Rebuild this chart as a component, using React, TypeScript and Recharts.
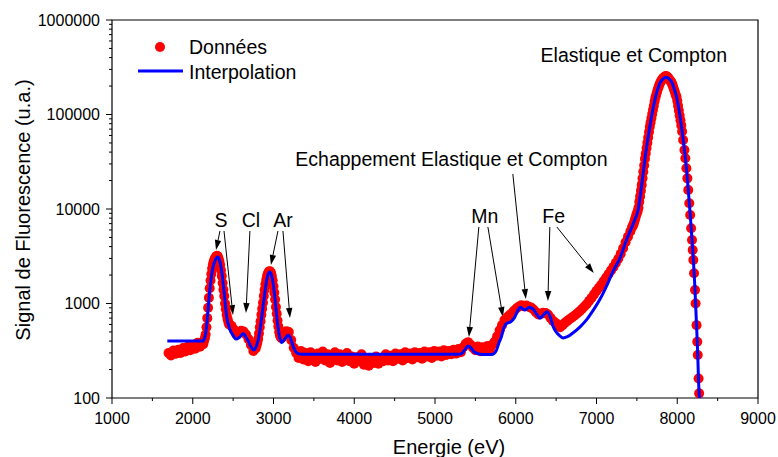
import React from 'react';
import { ComposedChart, Scatter, XAxis, YAxis, ReferenceArea, ReferenceLine, ReferenceDot, Legend, Label } from 'recharts';

const FONT = '"Liberation Sans", Arial, Helvetica, sans-serif';

// Données (points rouges) : énergie en eV
const donneesEnergie = [
  1700, 1730, 1760, 1790, 1820, 1850, 1880, 1910, 1940, 1970,
  2000, 2030, 2060, 2090, 2120, 2130, 2140, 2150, 2160, 2170,
  2180, 2190, 2200, 2210, 2220, 2230, 2240, 2250, 2260, 2270,
  2280, 2290, 2300, 2310, 2320, 2330, 2340, 2350, 2360, 2370,
  2380, 2390, 2400, 2410, 2420, 2430, 2440, 2450, 2480, 2510,
  2540, 2570, 2600, 2630, 2660, 2690, 2720, 2750, 2780, 2790,
  2800, 2810, 2820, 2830, 2840, 2850, 2860, 2870, 2880, 2890,
  2900, 2910, 2920, 2930, 2940, 2950, 2960, 2970, 2980, 2990,
  3000, 3010, 3020, 3030, 3040, 3050, 3060, 3070, 3080, 3090,
  3100, 3130, 3160, 3190, 3220, 3250, 3280, 3310, 3340, 3370,
  3400, 3430, 3460, 3490, 3520, 3550, 3580, 3610, 3640, 3670,
  3700, 3730, 3760, 3790, 3820, 3850, 3880, 3910, 3940, 3970,
  4000, 4030, 4060, 4090, 4120, 4150, 4180, 4210, 4240, 4270,
  4300, 4330, 4360, 4390, 4420, 4450, 4480, 4510, 4540, 4570,
  4600, 4630, 4660, 4690, 4720, 4750, 4780, 4810, 4840, 4870,
  4900, 4930, 4960, 4990, 5020, 5050, 5080, 5110, 5140, 5170,
  5200, 5230, 5260, 5290, 5320, 5350, 5380, 5410, 5440, 5470,
  5500, 5530, 5560, 5590, 5620, 5650, 5680, 5710, 5740, 5770,
  5800, 5830, 5860, 5890, 5920, 5950, 5980, 6010, 6040, 6070,
  6100, 6130, 6160, 6190, 6220, 6250, 6280, 6310, 6340, 6370,
  6400, 6430, 6460, 6490, 6520, 6550, 6580, 6610, 6640, 6670,
  6700, 6730, 6760, 6790, 6820, 6850, 6880, 6910, 6940, 6970,
  7000, 7030, 7060, 7090, 7120, 7150, 7180, 7210, 7240, 7270,
  7300, 7330, 7360, 7390, 7420, 7440, 7450, 7460, 7470, 7480,
  7490, 7500, 7510, 7520, 7530, 7540, 7550, 7560, 7570, 7580,
  7590, 7600, 7610, 7620, 7630, 7640, 7650, 7660, 7670, 7680,
  7690, 7700, 7710, 7720, 7730, 7740, 7750, 7760, 7770, 7780,
  7790, 7800, 7810, 7820, 7830, 7840, 7850, 7860, 7870, 7880,
  7890, 7900, 7910, 7920, 7930, 7940, 7950, 7960, 7970, 7980,
  7990, 8000, 8010, 8020, 8030, 8040, 8050, 8060, 8073, 8089,
  8100, 8113, 8125, 8136, 8149, 8160, 8172, 8183, 8191, 8199,
  8208, 8220, 8227, 8239, 8248, 8254, 8264, 8271,
];

// Données : signal (u.a.)
const donneesSignal = [
  300, 282, 318, 294, 324, 300, 338, 310, 350, 320,
  358, 332, 385, 348, 392, 370, 400, 430, 470, 560,
  700, 900, 1150, 1450, 1750, 2050, 2350, 2600, 2800, 2950,
  3050, 3150, 3200, 3150, 3000, 2800, 2550, 2250, 1950, 1650,
  1400, 1200, 1000, 870, 760, 690, 640, 600, 580, 530,
  470, 490, 515, 505, 470, 420, 365, 315, 335, 360,
  385, 420, 480, 560, 650, 760, 880, 1020, 1200, 1400,
  1600, 1780, 1950, 2080, 2150, 2200, 2180, 2100, 1950, 1750,
  1520, 1300, 1100, 920, 780, 660, 570, 500, 460, 440,
  430, 470, 510, 500, 410, 340, 300, 265, 315, 255,
  300, 245, 305, 270, 240, 295, 260, 310, 250, 290,
  235, 285, 305, 250, 290, 240, 280, 300, 245, 275,
  230, 270, 245, 290, 225, 265, 220, 260, 235, 275,
  230, 265, 245, 290, 250, 280, 245, 295, 260, 290,
  250, 305, 265, 295, 255, 305, 270, 300, 260, 310,
  275, 305, 265, 315, 280, 310, 275, 320, 285, 315,
  290, 325, 295, 330, 305, 345, 375, 390, 365, 340,
  320, 350, 312, 345, 318, 355, 328, 368, 395, 450,
  520, 590, 670, 710, 750, 790, 840, 890, 930, 960,
  935, 950, 925, 905, 865, 810, 765, 775, 800, 795,
  765, 705, 655, 625, 600, 560, 590, 625, 655, 685,
  715, 745, 785, 825, 875, 930, 990, 1070, 1150, 1250,
  1360, 1470, 1590, 1730, 1880, 2050, 2240, 2440, 2690, 2980,
  3350, 3850, 4450, 5100, 5800, 6400, 6650, 6950, 7400, 7950,
  8500, 9000, 9500, 10300, 11900, 13600, 15600, 18000, 21100, 24800,
  28800, 33900, 38600, 44100, 50100, 57100, 65200, 74300, 82400, 91200,
  101000, 112000, 124000, 138000, 151000, 162000, 174000, 186000, 197000, 208000,
  218000, 226000, 233000, 239000, 244000, 249000, 253000, 255000, 253000, 249000,
  243000, 236000, 230000, 224000, 216000, 207000, 195000, 184000, 174000, 162000,
  155000, 140000, 124000, 110000, 97700, 87000, 76700, 66100, 53700, 42100,
  34400, 27000, 21100, 15900, 11500, 8650, 6250, 4700, 3680, 2880,
  2090, 1390, 1000, 590, 394, 285, 161, 112,
];

// Interpolation (courbe bleue)
const interpEnergie = [
  1685, 2120, 2150, 2170, 2190, 2210, 2230, 2250, 2280, 2308,
  2335, 2355, 2385, 2420, 2460, 2500, 2535, 2580, 2626, 2660,
  2690, 2725, 2758, 2790, 2810, 2840, 2870, 2895, 2915, 2935,
  2955, 2975, 2995, 3020, 3040, 3070, 3100, 3140, 3183, 3215,
  3245, 3275, 3307, 3350, 5300, 5340, 5380, 5415, 5450, 5480,
  5515, 5560, 5600, 5700, 5730, 5760, 5790, 5824, 5855, 5886,
  5920, 5948, 5980, 6010, 6035, 6059, 6085, 6113, 6140, 6166,
  6190, 6216, 6260, 6299, 6340, 6389, 6430, 6463, 6500, 6546,
  6587, 6640, 6711, 6800, 6876, 6960, 7041, 7120, 7206, 7289,
  7371, 7430, 7474, 7516, 7557, 7598, 7660, 7722, 7784, 7830,
  7858, 7900, 7929, 7960, 7991, 8053, 8094, 8123, 8156, 8189,
  8218, 8250, 8271, 8278,
];

const interpSignal = [
  400, 400, 440, 560, 870, 1350, 1900, 2400, 2900, 3100,
  2800, 2300, 1400, 730, 530, 460, 420, 440, 480, 440,
  395, 345, 322, 360, 410, 580, 920, 1350, 1750, 2050,
  2150, 2000, 1650, 1100, 730, 470, 385, 420, 465, 420,
  350, 310, 295, 290, 290, 300, 335, 355, 335, 310,
  298, 290, 288, 288, 295, 320, 380, 450, 560, 615,
  630, 650, 700, 790, 870, 910, 880, 855, 880, 910,
  900, 870, 770, 700, 750, 820, 710, 570, 500, 455,
  432, 445, 490, 570, 670, 850, 1100, 1500, 2200, 3000,
  4700, 6200, 7700, 9800, 17200, 33000, 74000, 142000, 214000, 240000,
  248000, 238000, 222000, 190000, 154000, 74300, 38800, 22000, 9750, 3990,
  1506, 355, 112, 100,
];

const xTicks = [1000, 1500, 2000, 2500, 3000, 3500, 4000, 4500, 5000, 5500, 6000, 6500, 7000, 7500, 8000, 8500, 9000];
const xMajor = [1000, 2000, 3000, 4000, 5000, 6000, 7000, 8000, 9000];
const yMajor = [100, 1000, 10000, 100000, 1000000];
const yMinor = [
  200, 300, 400, 500, 600, 700, 800, 900,
  2000, 3000, 4000, 5000, 6000, 7000, 8000, 9000,
  20000, 30000, 40000, 50000, 60000, 70000, 80000, 90000,
  200000, 300000, 400000, 500000, 600000, 700000, 800000, 900000,
];

// annotations
const labelText = ['S', 'Cl', 'Ar', 'Mn', 'Fe', 'Echappement Elastique et Compton', 'Elastique et Compton'];
const labelEnergie = [2350, 2721, 3117, 5618, 6469, 5203, 7462];
const labelSignal = [7650, 7650, 7650, 8430, 8430, 34000, 426000];

const arrowFromE = [2337, 2387, 2708, 3055, 3117, 5543, 5655, 5964, 6422, 6509];
const arrowFromS = [5850, 5850, 5850, 5850, 5850, 6450, 6450, 23500, 6450, 6450];
const arrowToE = [2288, 2498, 2659, 2968, 3204, 5420, 5841, 6125, 6398, 6967];
const arrowToS = [3680, 755, 794, 2555, 703, 442, 720, 1115, 1062, 2100];

const donnees = donneesEnergie.map((x, i) => ({ x, y: donneesSignal[i] }));
const interp = interpEnergie.map((x, i) => ({ x, y: interpSignal[i] }));

const XTick = (props: any) => {
  const { x, y, payload } = props;
  const major = xMajor.includes(payload.value);
  return (
    <g>
      <line x1={x} x2={x} y1={y} y2={y + (major ? 6 : 3)} stroke="#000" strokeWidth={1} />
      {major && (
        <text x={x} y={y + 20} textAnchor="middle" dominantBaseline="central" fontSize={16} fontFamily={FONT} fill="#000">
          {payload.value}
        </text>
      )}
    </g>
  );
};

const YTick = (props: any) => {
  const { x, y, payload } = props;
  const major = yMajor.includes(payload.value);
  return (
    <g>
      <line x1={x - (major ? 6 : 3)} x2={x} y1={y} y2={y} stroke="#000" strokeWidth={1} />
      {major && (
        <text x={x - 12} y={y} textAnchor="end" dominantBaseline="central" fontSize={16} fontFamily={FONT} fill="#000">
          {payload.value}
        </text>
      )}
    </g>
  );
};

const RedDot = (p: any) => <circle cx={p.cx} cy={p.cy} r={5} fill="#ff0000" />;
const NoDot = () => <g />;

const Arrow = (props: any) => {
  const { x1, y1, x2, y2 } = props;
  const a = Math.atan2(y2 - y1, x2 - x1);
  const len = 10;
  const w = 3.2;
  const bx = x2 - len * Math.cos(a);
  const by = y2 - len * Math.sin(a);
  const px = -Math.sin(a) * w;
  const py = Math.cos(a) * w;
  return (
    <g>
      <line x1={x1} y1={y1} x2={bx} y2={by} stroke="#000" strokeWidth={1} />
      <polygon points={`${x2},${y2} ${bx + px},${by + py} ${bx - px},${by - py}`} fill="#000" />
    </g>
  );
};

const renderLegend = () => (
  <svg width={200} height={56}>
    <circle cx={30} cy={17} r={5} fill="#ff0000" />
    <text x={59} y={17} dominantBaseline="central" fontSize={19.5} fontFamily={FONT} fill="#000">Données</text>
    <line x1={8} x2={53} y1={41} y2={41} stroke="#0000ff" strokeWidth={3} />
    <text x={59} y={42} dominantBaseline="central" fontSize={19.5} fontFamily={FONT} fill="#000">Interpolation</text>
  </svg>
);

export default function App() {
  return (
    <div style={{ position: 'absolute', left: 0, top: 0, width: 778, height: 457, background: '#fff' }}>
      <ComposedChart width={778} height={457} margin={{ top: 20, right: 20, bottom: 0, left: 0 }}>
        <XAxis
          type="number"
          dataKey="x"
          domain={[1000, 9000]}
          ticks={xTicks}
          interval={0}
          tickSize={0}
          tickMargin={0}
          tickLine={false}
          axisLine={false}
          tick={<XTick />}
          height={59}
        >
          <Label
            content={() => (
              <text x={449} y={447} textAnchor="middle" dominantBaseline="central" fontSize={20} fontFamily={FONT} fill="#000">
                Energie (eV)
              </text>
            )}
          />
        </XAxis>
        <YAxis
          type="number"
          dataKey="y"
          scale="log"
          domain={[100, 1000000]}
          allowDataOverflow
          ticks={[...yMajor, ...yMinor]}
          interval={0}
          tickSize={0}
          tickMargin={0}
          tickLine={false}
          axisLine={false}
          tick={<YTick />}
          width={112}
        >
          <Label
            content={() => (
              <text
                x={23}
                y={210}
                transform="rotate(-90, 23, 210)"
                textAnchor="middle"
                dominantBaseline="central"
                fontSize={20}
                fontFamily={FONT}
                fill="#000"
              >
                Signal de Fluorescence (u.a.)
              </text>
            )}
          />
        </YAxis>
        <ReferenceArea x1={1000} x2={9000} y1={100} y2={1000000} fill="none" stroke="#000" strokeWidth={1.2} fillOpacity={0} />
        <Scatter
          data={donnees}
          dataKey="y"
          shape={<RedDot />}
          isAnimationActive={false}
        />
        <Scatter
          data={interp}
          dataKey="y"
          shape={<NoDot />}
          line={{ stroke: '#0000ff', strokeWidth: 3 }}
          lineType="joint"
          lineJointType="monotoneX"
          isAnimationActive={false}
        />
        {arrowFromE.map((e, i) => (
          <ReferenceLine
            key={`arr-${i}`}
            segment={[{ x: e, y: arrowFromS[i] }, { x: arrowToE[i], y: arrowToS[i] }]}
            shape={<Arrow />}
          />
        ))}
        {labelText.map((t, i) => (
          <ReferenceDot
            key={`lab-${i}`}
            x={labelEnergie[i]}
            y={labelSignal[i]}
            r={0}
            shape={(p: any) => (
              <text x={p.cx} y={p.cy} textAnchor="middle" dominantBaseline="central" fontSize={19.5} fontFamily={FONT} fill="#000">
                {t}
              </text>
            )}
          />
        ))}
        <Legend
          layout="vertical"
          align="center"
          verticalAlign="middle"
          content={renderLegend}
          wrapperStyle={{ left: 130, top: 30, width: 200, height: 56 }}
        />
      </ComposedChart>
    </div>
  );
}
